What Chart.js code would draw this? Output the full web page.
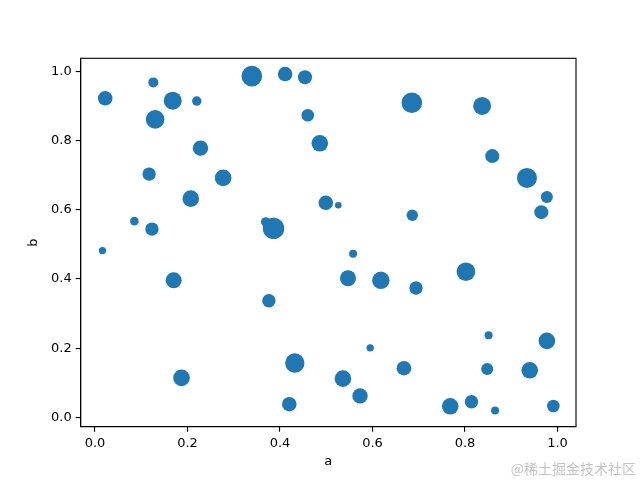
<!DOCTYPE html>
<html lang="en">

<head>
    <meta charset="utf-8">
    <style>
        html, body { margin: 0; padding: 0; background: #fff; }
        #wrap { width: 640px; height: 480px; }
    </style>
</head>

<body>
    <div id="wrap">
        <canvas id="myChart" width="640" height="480"></canvas>
    </div>

    <script src="https://cdn.jsdelivr.net/npm/chart.js@4.4.1/dist/chart.umd.min.js"></script>

    <script>
        // column "a"
        var aValues = [0.022, 0.126, 0.168, 0.220, 0.130, 0.228, 0.117, 0.277, 0.207, 0.085,
                       0.123, 0.016, 0.170, 0.339, 0.411, 0.454, 0.460, 0.486, 0.499, 0.526,
                       0.369, 0.386, 0.558, 0.547, 0.618, 0.694, 0.802, 0.685, 0.837, 0.859,
                       0.934, 0.977, 0.965, 0.686, 0.376, 0.187, 0.432, 0.420, 0.536, 0.573,
                       0.595, 0.668, 0.768, 0.814, 0.851, 0.848, 0.865, 0.977, 0.940, 0.991];
        // column "b"
        var bValues = [0.922, 0.968, 0.915, 0.914, 0.861, 0.778, 0.703, 0.692, 0.632, 0.567,
                       0.544, 0.482, 0.396, 0.986, 0.992, 0.983, 0.873, 0.792, 0.620, 0.613,
                       0.565, 0.546, 0.473, 0.402, 0.396, 0.374, 0.421, 0.909, 0.900, 0.755,
                       0.692, 0.637, 0.593, 0.584, 0.337, 0.114, 0.157, 0.038, 0.112, 0.062,
                       0.201, 0.142, 0.032, 0.045, 0.237, 0.140, 0.020, 0.221, 0.136, 0.033];
        // marker area (points^2, like matplotlib "s")
        var sizes = [110, 52, 168, 46, 179, 123, 93, 143, 143, 38,
                     93, 28, 133, 220, 110, 102, 82, 143, 110, 23,
                     46, 237, 33, 133, 157, 93, 179, 220, 168, 102,
                     207, 75, 102, 67, 93, 143, 195, 110, 143, 123,
                     28, 110, 143, 93, 33, 75, 33, 143, 143, 82];
        var tickValues = [0.0, 0.2, 0.4, 0.6, 0.8, 1.0];

        var points = [];
        for (var i = 0; i < aValues.length; i++) {
            points.push({ x: aValues[i], y: bValues[i], s: sizes[i] });
        }

        // area in pt^2 -> radius in px at 100 dpi
        function radiusOf(s) {
            return Math.sqrt(s) / 2 * (100 / 72);
        }

        var font = { family: "DejaVu Sans", size: 13 };

        var frame = {
            id: 'frame',
            afterDraw: function (chart) {
                var ctx = chart.ctx;
                var a = chart.chartArea;
                ctx.save();
                ctx.strokeStyle = '#000';
                ctx.lineWidth = 1.1;
                ctx.strokeRect(a.left, a.top, a.right - a.left, a.bottom - a.top);
                ctx.fillStyle = '#c4c4c4';
                ctx.font = '14px "Noto Sans CJK SC"';
                ctx.textAlign = 'right';
                ctx.textBaseline = 'middle';
                ctx.fillText('@稀土掘金技术社区', 636, 469);
                ctx.restore();
            }
        };

        Chart.defaults.color = '#000';

        var ctx = document.getElementById("myChart").getContext("2d");
        var scatter = new Chart(ctx, {
            type: 'scatter',
            data: {
                datasets: [{
                    data: points,
                    backgroundColor: '#1f77b4',
                    borderWidth: 0,
                    pointRadius: function (c) {
                        return c.raw ? radiusOf(c.raw.s) : 3;
                    },
                    pointHoverRadius: function (c) {
                        return c.raw ? radiusOf(c.raw.s) : 3;
                    }
                }]
            },
            options: {
                responsive: false,
                animation: false,
                devicePixelRatio: 1,
                layout: { padding: { left: 0, right: 64, top: 58.3, bottom: 0 } },
                plugins: {
                    legend: { display: false },
                    tooltip: { enabled: false }
                },
                scales: {
                    x: {
                        type: 'linear',
                        min: -0.031,
                        max: 1.040,
                        afterFit: function (s) { s.height = 53.3; },
                        afterBuildTicks: function (s) {
                            s.ticks = tickValues.map(function (v) { return { value: v }; });
                        },
                        ticks: {
                            font: font,
                            padding: 4,
                            maxRotation: 0,
                            callback: function (v) { return v.toFixed(1); }
                        },
                        grid: {
                            drawOnChartArea: false,
                            drawTicks: true,
                            tickLength: 5,
                            color: '#000',
                            lineWidth: 1.1
                        },
                        border: { display: true, color: '#000', width: 1.1 },
                        title: {
                            display: true,
                            text: 'a',
                            font: font,
                            padding: { top: 0, bottom: 11 }
                        }
                    },
                    y: {
                        type: 'linear',
                        min: -0.027,
                        max: 1.0376,
                        afterFit: function (s) { s.width = 80.7; },
                        afterBuildTicks: function (s) {
                            s.ticks = tickValues.map(function (v) { return { value: v }; });
                        },
                        ticks: {
                            font: font,
                            padding: 4,
                            callback: function (v) { return v.toFixed(1); }
                        },
                        grid: {
                            drawOnChartArea: false,
                            drawTicks: true,
                            tickLength: 5,
                            color: '#000',
                            lineWidth: 1.1
                        },
                        border: { display: true, color: '#000', width: 1.1 },
                        title: {
                            display: true,
                            text: 'b',
                            font: font,
                            padding: { top: 26, bottom: 0 }
                        }
                    }
                }
            },
            plugins: [frame]
        });
    </script>

</body>

</html>
